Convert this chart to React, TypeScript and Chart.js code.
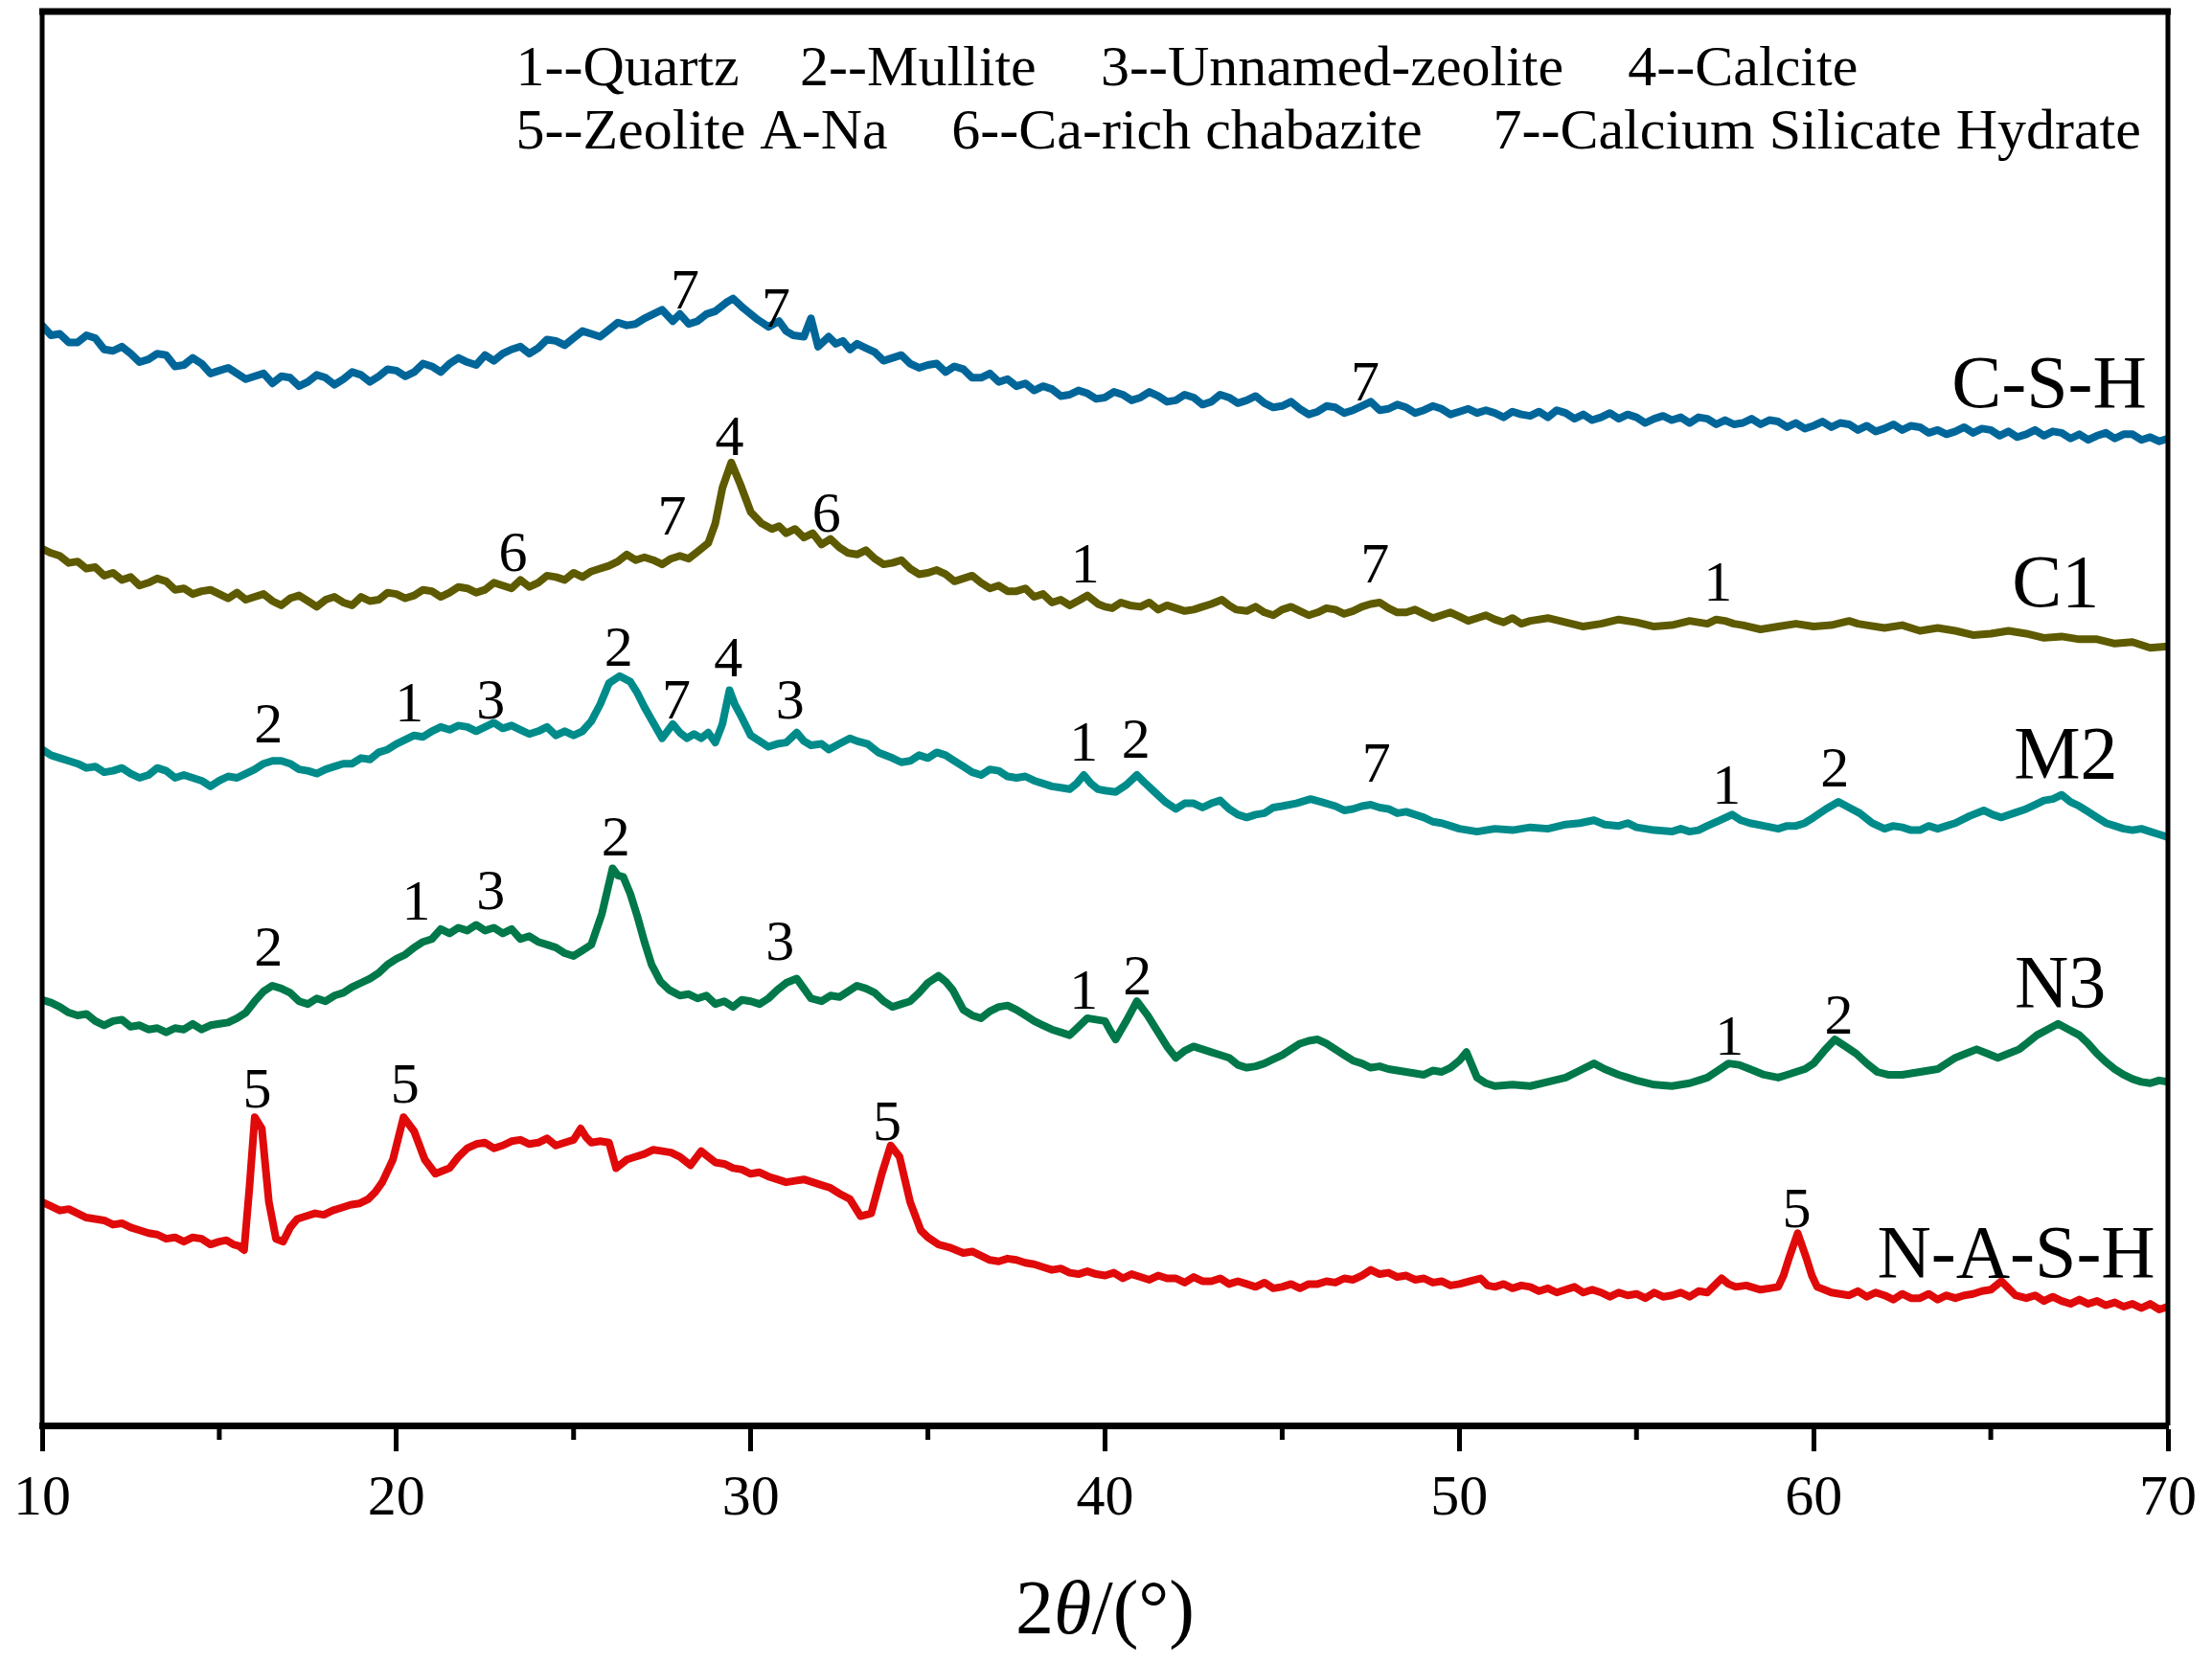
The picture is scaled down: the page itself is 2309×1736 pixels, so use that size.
import { useEffect, useRef } from "react"
import { Chart, registerables } from "chart.js"

Chart.register(...registerables)

// 2θ (deg) / intensity (a.u.) pairs
const cshPattern = [
  [10, 778], [10.25, 771], [10.5, 772], [10.75, 766], [11, 766], [11.25, 771], [11.5, 769], [11.75, 761],
  [12, 760], [12.25, 763], [12.5, 758], [12.75, 752], [13, 754], [13.25, 758], [13.5, 757], [13.75, 749],
  [14, 750], [14.25, 755], [14.5, 751], [14.75, 744], [15, 746], [15.25, 748], [15.5, 744], [15.75, 740],
  [16, 742], [16.25, 744], [16.5, 737], [16.75, 742], [17, 741], [17.25, 735], [17.5, 738], [17.75, 743],
  [18, 741], [18.25, 736], [18.5, 740], [18.75, 745], [19, 743], [19.25, 738], [19.5, 742], [19.75, 747],
  [20, 746], [20.25, 742], [20.5, 745], [20.75, 751], [21, 749], [21.25, 745], [21.5, 751], [21.75, 755],
  [22, 752], [22.25, 750], [22.5, 757], [22.75, 753], [23, 758], [23.25, 761], [23.5, 763], [23.75, 758],
  [24, 762], [24.25, 768], [24.5, 767], [24.75, 764], [25, 769], [25.25, 774], [25.5, 772], [25.75, 770],
  [26, 775], [26.25, 780], [26.5, 778], [26.75, 779], [27, 783], [27.25, 786], [27.5, 789], [27.8, 781],
  [28, 786], [28.25, 779], [28.5, 781], [28.75, 786], [29, 788], [29.3, 794], [29.5, 797], [29.8, 790],
  [30, 786], [30.2, 782], [30.5, 777], [30.8, 781], [31, 774], [31.2, 771], [31.5, 770], [31.7, 783],
  [31.9, 763], [32.2, 770], [32.4, 765], [32.6, 767], [32.8, 761], [33, 765], [33.25, 762], [33.5, 759],
  [33.75, 753], [34, 755], [34.25, 757], [34.5, 751], [34.75, 748], [35, 750], [35.25, 751], [35.5, 745],
  [35.75, 749], [36, 747], [36.25, 741], [36.5, 741], [36.75, 744], [37, 738], [37.25, 740], [37.5, 735],
  [37.75, 737], [38, 732], [38.25, 735], [38.5, 733], [38.75, 728], [39, 729], [39.25, 732], [39.5, 730],
  [39.75, 726], [40, 727], [40.25, 731], [40.5, 729], [40.75, 725], [41, 727], [41.25, 731], [41.5, 728],
  [41.75, 724], [42, 725], [42.25, 729], [42.5, 727], [42.75, 722], [43, 724], [43.25, 729], [43.5, 727],
  [43.75, 723], [44, 725], [44.25, 728], [44.5, 723], [44.75, 720], [45, 721], [45.25, 724], [45.5, 719],
  [45.75, 715], [46, 717], [46.25, 721], [46.5, 720], [46.75, 716], [47, 718], [47.25, 721], [47.5, 724],
  [47.75, 718], [48, 719], [48.25, 722], [48.5, 720], [48.75, 716], [49, 718], [49.25, 721], [49.5, 719],
  [49.75, 715], [50, 717], [50.25, 719], [50.5, 716], [50.75, 718], [51, 716], [51.25, 713], [51.5, 717],
  [51.75, 715], [52, 714], [52.25, 717], [52.5, 713], [52.75, 718], [53, 716], [53.25, 712], [53.5, 715],
  [53.75, 711], [54, 713], [54.25, 716], [54.5, 712], [54.75, 715], [55, 713], [55.25, 709], [55.5, 712],
  [55.75, 714], [56, 711], [56.25, 713], [56.5, 709], [56.75, 713], [57, 712], [57.25, 708], [57.5, 711],
  [57.75, 708], [58, 709], [58.25, 712], [58.5, 708], [58.75, 711], [59, 710], [59.25, 706], [59.5, 709],
  [59.75, 705], [60, 707], [60.25, 710], [60.5, 706], [60.75, 709], [61, 708], [61.25, 704], [61.5, 707],
  [61.75, 703], [62, 705], [62.25, 708], [62.5, 704], [62.75, 707], [63, 706], [63.25, 702], [63.5, 704],
  [63.75, 701], [64, 703], [64.25, 706], [64.5, 702], [64.75, 705], [65, 704], [65.25, 700], [65.5, 703],
  [65.75, 699], [66, 701], [66.25, 704], [66.5, 700], [66.75, 703], [67, 702], [67.25, 698], [67.5, 701],
  [67.75, 697], [68, 700], [68.25, 702], [68.5, 698], [68.75, 701], [69, 701], [69.25, 697], [69.5, 699],
  [69.75, 696], [70, 698],
]

const c1Pattern = [
  [10, 620], [10.25, 617], [10.5, 615], [10.75, 610], [11, 611], [11.25, 606], [11.5, 607], [11.75, 601],
  [12, 603], [12.25, 598], [12.5, 600], [12.75, 594], [13, 596], [13.25, 599], [13.5, 597], [13.75, 591],
  [14, 592], [14.25, 588], [14.5, 590], [14.75, 591], [15, 588], [15.25, 585], [15.5, 589], [15.75, 584],
  [16, 586], [16.25, 588], [16.5, 583], [16.75, 580], [17, 585], [17.25, 587], [17.5, 583], [17.75, 579],
  [18, 584], [18.25, 586], [18.5, 582], [18.75, 580], [19, 586], [19.25, 583], [19.5, 584], [19.75, 589],
  [20, 588], [20.25, 585], [20.5, 587], [20.75, 591], [21, 590], [21.25, 586], [21.5, 589], [21.75, 593],
  [22, 592], [22.25, 589], [22.5, 591], [22.75, 596], [23, 594], [23.25, 592], [23.5, 598], [23.75, 593],
  [24, 596], [24.25, 601], [24.5, 600], [24.75, 598], [25, 603], [25.25, 600], [25.5, 604], [25.75, 606],
  [26, 608], [26.25, 611], [26.5, 616], [26.75, 612], [27, 614], [27.25, 612], [27.5, 609], [27.75, 613],
  [28, 615], [28.25, 613], [28.5, 618], [28.8, 624], [29, 638], [29.2, 663], [29.45, 681], [29.7, 666],
  [30, 646], [30.3, 638], [30.6, 634], [30.8, 636], [31, 631], [31.25, 634], [31.5, 628], [31.75, 631],
  [32, 623], [32.25, 627], [32.5, 621], [32.75, 617], [33, 616], [33.25, 619], [33.5, 613], [33.75, 609],
  [34, 610], [34.25, 612], [34.5, 606], [34.75, 602], [35, 603], [35.25, 605], [35.5, 602], [35.75, 597],
  [36, 599], [36.25, 601], [36.5, 596], [36.75, 592], [37, 594], [37.25, 590], [37.5, 590], [37.75, 592],
  [38, 586], [38.25, 588], [38.5, 582], [38.75, 584], [39, 580], [39.3, 584], [39.5, 587], [39.8, 581],
  [40, 579], [40.2, 578], [40.45, 582], [40.7, 580], [41, 579], [41.25, 582], [41.5, 577], [41.75, 580],
  [42, 578], [42.25, 576], [42.5, 577], [42.75, 579], [43, 581], [43.3, 584], [43.5, 580], [43.7, 577],
  [44, 576], [44.25, 579], [44.5, 575], [44.75, 573], [45, 577], [45.25, 579], [45.5, 576], [45.75, 573],
  [46, 575], [46.25, 578], [46.5, 577], [46.75, 574], [47, 576], [47.25, 579], [47.5, 581], [47.75, 582],
  [48, 578], [48.25, 575], [48.5, 575], [48.75, 577], [49, 574], [49.25, 571], [49.5, 573], [49.75, 575],
  [50, 572], [50.25, 569], [50.5, 571], [50.75, 573], [51, 570], [51.25, 568], [51.5, 571], [51.75, 567],
  [52, 569], [52.5, 571], [53, 568], [53.5, 565], [54, 567], [54.5, 570], [55, 568], [55.5, 565],
  [56, 566], [56.5, 569], [57, 567], [57.25, 570], [57.5, 569], [57.75, 567], [58, 566], [58.5, 563],
  [59, 565], [59.5, 567], [60, 565], [60.5, 566], [61, 569], [61.25, 567], [61.5, 566], [62, 564],
  [62.5, 566], [63, 562], [63.5, 564], [64, 562], [64.5, 559], [65, 560], [65.5, 562], [66, 560],
  [66.5, 557], [67, 558], [67.5, 556], [68, 556], [68.5, 553], [69, 554], [69.5, 550], [70, 551],
]

const m2Pattern = [
  [10, 478], [10.25, 474], [10.5, 472], [10.75, 470], [11, 468], [11.25, 465], [11.5, 466], [11.75, 462],
  [12, 463], [12.25, 465], [12.5, 461], [12.75, 458], [13, 460], [13.25, 465], [13.5, 463], [13.75, 458],
  [14, 460], [14.25, 458], [14.5, 456], [14.75, 452], [15, 456], [15.25, 459], [15.5, 458], [15.75, 461],
  [16, 464], [16.25, 468], [16.5, 470], [16.75, 470], [17, 468], [17.25, 464], [17.5, 463], [17.75, 461],
  [18, 464], [18.25, 466], [18.5, 468], [18.75, 468], [19, 472], [19.25, 471], [19.5, 476], [19.75, 478],
  [20, 482], [20.25, 485], [20.5, 488], [20.75, 487], [21, 491], [21.25, 494], [21.5, 492], [21.75, 495],
  [22, 494], [22.25, 491], [22.5, 494], [22.75, 497], [23, 493], [23.25, 495], [23.5, 492], [23.75, 489],
  [24, 491], [24.25, 494], [24.5, 488], [24.75, 491], [25, 488], [25.25, 491], [25.5, 498], [25.75, 510],
  [26, 525], [26.3, 530], [26.6, 526], [26.8, 518], [27, 508], [27.25, 497], [27.5, 486], [27.8, 496],
  [28, 490], [28.2, 486], [28.4, 489], [28.6, 486], [28.8, 490], [29, 483], [29.2, 496], [29.4, 520],
  [29.55, 510], [29.7, 503], [30, 488], [30.25, 484], [30.5, 480], [30.75, 482], [31, 483], [31.3, 490],
  [31.5, 484], [31.7, 481], [32, 482], [32.2, 478], [32.5, 482], [32.8, 486], [33, 484], [33.3, 482],
  [33.6, 476], [34, 472], [34.25, 469], [34.5, 470], [34.75, 474], [35, 472], [35.25, 476], [35.5, 474],
  [35.75, 470], [36, 466], [36.25, 462], [36.5, 460], [36.75, 464], [37, 463], [37.25, 459], [37.5, 458],
  [37.75, 459], [38, 456], [38.25, 454], [38.5, 452], [38.75, 451], [39, 450], [39.2, 454], [39.4, 460],
  [39.6, 454], [39.8, 450], [40, 449], [40.3, 448], [40.6, 453], [40.9, 460], [41.1, 455], [41.4, 448],
  [41.7, 441], [42, 436], [42.25, 440], [42.5, 440], [42.75, 437], [43, 440], [43.25, 442], [43.5, 436],
  [43.75, 432], [44, 430], [44.25, 432], [44.5, 433], [44.75, 437], [45, 438], [45.4, 440], [45.8, 443],
  [46.1, 441], [46.5, 438], [46.75, 435], [47, 436], [47.25, 438], [47.5, 439], [47.75, 437], [48, 436],
  [48.25, 433], [48.5, 434], [48.75, 432], [49, 430], [49.25, 427], [49.5, 426], [49.75, 424], [50, 422],
  [50.25, 421], [50.5, 420], [50.75, 421], [51, 422], [51.5, 421], [52, 423], [52.5, 422], [53, 425],
  [53.4, 426], [53.8, 428], [54.1, 425], [54.5, 424], [54.75, 426], [55, 423], [55.5, 421], [56, 420],
  [56.25, 422], [56.5, 420], [56.75, 421], [57, 424], [57.35, 428], [57.7, 432], [57.95, 428], [58.2, 426],
  [58.6, 424], [59, 422], [59.25, 424], [59.5, 424], [59.75, 426], [60, 430], [60.35, 436], [60.7, 441],
  [61, 437], [61.3, 433], [61.65, 426], [62, 422], [62.25, 424], [62.5, 423], [62.75, 421], [63, 421],
  [63.25, 424], [63.5, 422], [63.75, 424], [64, 426], [64.4, 431], [64.8, 435], [65.05, 432], [65.3, 430],
  [65.65, 433], [66, 436], [66.25, 439], [66.5, 442], [66.75, 443], [67, 446], [67.25, 441], [67.5, 438],
  [67.75, 434], [68, 430], [68.25, 426], [68.5, 424], [68.75, 422], [69, 421], [69.25, 422], [69.5, 420],
  [69.75, 418], [70, 416],
]

const n3Pattern = [
  [10, 301], [10.25, 299], [10.5, 296], [10.75, 292], [11, 290], [11.25, 291], [11.5, 286], [11.75, 283],
  [12, 286], [12.25, 287], [12.5, 282], [12.75, 283], [13, 280], [13.25, 281], [13.5, 278], [13.75, 281],
  [14, 280], [14.25, 284], [14.5, 280], [14.75, 283], [15, 284], [15.25, 285], [15.5, 288], [15.75, 292],
  [16, 300], [16.25, 307], [16.5, 311], [16.75, 309], [17, 306], [17.25, 300], [17.5, 298], [17.75, 302],
  [18, 300], [18.25, 304], [18.5, 306], [18.75, 310], [19, 313], [19.25, 316], [19.5, 320], [19.75, 326],
  [20, 330], [20.25, 333], [20.5, 338], [20.75, 342], [21, 344], [21.25, 351], [21.5, 348], [21.75, 352],
  [22, 350], [22.25, 354], [22.5, 350], [22.75, 352], [23, 348], [23.25, 351], [23.5, 344], [23.75, 346],
  [24, 342], [24.25, 340], [24.5, 338], [24.75, 334], [25, 332], [25.25, 336], [25.5, 340], [25.8, 362],
  [26.1, 394], [26.25, 389], [26.4, 388], [26.6, 376], [26.8, 360], [27, 342], [27.2, 326], [27.45, 314],
  [27.7, 308], [28, 304], [28.25, 305], [28.5, 302], [28.75, 304], [29, 298], [29.25, 300], [29.5, 296],
  [29.75, 301], [30, 300], [30.25, 298], [30.5, 302], [30.75, 308], [31, 313], [31.3, 316], [31.5, 309],
  [31.7, 302], [32, 300], [32.25, 304], [32.5, 303], [32.75, 307], [33, 311], [33.25, 309], [33.5, 306],
  [33.75, 300], [34, 296], [34.25, 298], [34.5, 300], [34.75, 306], [35, 313], [35.3, 318], [35.5, 314],
  [35.7, 308], [36, 294], [36.25, 290], [36.5, 288], [36.75, 293], [37, 296], [37.25, 297], [37.5, 294],
  [37.75, 290], [38, 286], [38.25, 283], [38.5, 280], [38.75, 278], [39, 276], [39.25, 282], [39.5, 288],
  [39.75, 287], [40, 286], [40.15, 279], [40.3, 273], [40.6, 286], [40.9, 300], [41.2, 290], [41.5, 278],
  [41.75, 268], [42, 260], [42.25, 265], [42.5, 268], [42.75, 266], [43, 264], [43.25, 262], [43.5, 260],
  [43.75, 255], [44, 253], [44.25, 254], [44.5, 256], [44.75, 259], [45, 262], [45.25, 266], [45.5, 270],
  [45.75, 272], [46, 273], [46.25, 270], [46.5, 266], [46.75, 262], [47, 258], [47.25, 256], [47.5, 253],
  [47.75, 254], [48, 252], [48.25, 251], [48.5, 250], [48.75, 249], [49, 248], [49.25, 251], [49.5, 250],
  [49.75, 253], [50, 258], [50.2, 264], [50.35, 255], [50.5, 246], [50.75, 242], [51, 240], [51.5, 241],
  [52, 240], [52.5, 243], [53, 246], [53.4, 251], [53.8, 256], [54.1, 252], [54.5, 248], [54.75, 246],
  [55, 244], [55.5, 241], [56, 240], [56.25, 241], [56.5, 242], [56.75, 244], [57, 246], [57.3, 251],
  [57.6, 256], [57.9, 255], [58.2, 252], [58.6, 248], [59, 246], [59.25, 248], [59.5, 250], [59.75, 252],
  [60, 256], [60.3, 265], [60.6, 273], [60.9, 268], [61.2, 263], [61.5, 256], [61.8, 250], [62.1, 248],
  [62.5, 248], [62.75, 249], [63, 250], [63.25, 251], [63.5, 252], [63.75, 256], [64, 260], [64.3, 263],
  [64.6, 266], [64.9, 263], [65.2, 260], [65.5, 263], [65.8, 266], [66.05, 271], [66.3, 276], [66.6, 280],
  [66.9, 284], [67.2, 280], [67.5, 276], [67.75, 270], [68, 263], [68.25, 257], [68.5, 252], [68.75, 248],
  [69, 245], [69.25, 243], [69.5, 242], [69.75, 244], [70, 243],
]

const nashPattern = [
  [10, 158], [10.25, 155], [10.5, 152], [10.75, 153], [11, 150], [11.25, 147], [11.5, 146], [11.75, 145],
  [12, 142], [12.25, 143], [12.5, 140], [12.75, 138], [13, 136], [13.25, 135], [13.5, 132], [13.75, 133],
  [14, 130], [14.25, 133], [14.5, 132], [14.75, 128], [15, 130], [15.2, 131], [15.4, 128], [15.55, 127],
  [15.7, 124], [15.85, 168], [16, 218], [16.2, 210], [16.4, 158], [16.6, 132], [16.8, 130], [17, 140],
  [17.2, 146], [17.45, 148], [17.7, 150], [17.95, 149], [18.2, 152], [18.45, 154], [18.7, 156], [18.95, 157],
  [19.2, 160], [19.4, 165], [19.6, 172], [19.9, 188], [20.2, 218], [20.5, 208], [20.8, 188], [21.1, 178],
  [21.3, 180], [21.5, 182], [21.75, 190], [22, 196], [22.25, 199], [22.5, 200], [22.75, 196], [23, 198],
  [23.25, 201], [23.5, 202], [23.75, 199], [24, 200], [24.25, 203], [24.5, 198], [24.75, 200], [25, 202],
  [25.2, 210], [25.35, 204], [25.5, 200], [25.75, 201], [26, 200], [26.2, 182], [26.5, 188], [26.75, 190],
  [27, 192], [27.25, 195], [27.5, 194], [27.75, 193], [28, 190], [28.3, 184], [28.6, 194], [28.8, 190],
  [29, 186], [29.25, 185], [29.5, 182], [29.75, 181], [30, 178], [30.25, 179], [30.5, 176], [30.75, 174],
  [31, 172], [31.25, 173], [31.5, 174], [31.75, 172], [32, 170], [32.25, 168], [32.5, 164], [32.8, 160],
  [33.1, 148], [33.4, 150], [33.7, 178], [33.95, 198], [34.2, 190], [34.5, 158], [34.8, 138], [35, 133],
  [35.3, 128], [35.6, 126], [36, 122], [36.25, 123], [36.5, 120], [36.75, 117], [37, 116], [37.25, 118],
  [37.5, 117], [37.75, 115], [38, 114], [38.25, 112], [38.5, 110], [38.75, 111], [39, 108], [39.25, 107],
  [39.5, 109], [39.75, 107], [40, 106], [40.25, 108], [40.5, 104], [40.75, 107], [41, 105], [41.25, 103],
  [41.5, 106], [41.75, 104], [42, 104], [42.25, 101], [42.5, 105], [42.75, 102], [43, 102], [43.25, 104],
  [43.5, 100], [43.75, 102], [44, 100], [44.25, 98], [44.5, 101], [44.75, 97], [45, 98], [45.25, 100],
  [45.5, 97], [45.75, 100], [46, 100], [46.25, 102], [46.5, 101], [46.75, 104], [47, 103], [47.25, 106],
  [47.5, 110], [47.75, 107], [48, 108], [48.25, 105], [48.5, 106], [48.75, 103], [49, 104], [49.25, 101],
  [49.5, 102], [49.75, 99], [50, 100], [50.3, 102], [50.6, 104], [50.8, 99], [51, 98], [51.25, 100],
  [51.5, 97], [51.75, 99], [52, 98], [52.25, 95], [52.5, 97], [52.75, 94], [53, 96], [53.25, 98],
  [53.5, 94], [53.75, 96], [54, 94], [54.25, 91], [54.5, 94], [54.75, 92], [55, 93], [55.25, 90],
  [55.5, 94], [55.75, 91], [56, 92], [56.25, 94], [56.5, 91], [56.75, 95], [57, 94], [57.2, 99],
  [57.4, 104], [57.6, 100], [57.8, 98], [58.1, 99], [58.5, 96], [58.75, 97], [59, 98], [59.15, 106],
  [59.3, 118], [59.55, 136], [59.8, 118], [59.95, 106], [60.1, 98], [60.3, 96], [60.5, 94], [60.75, 93],
  [61, 92], [61.25, 95], [61.5, 91], [61.75, 94], [62, 92], [62.25, 89], [62.5, 93], [62.75, 90],
  [63, 90], [63.25, 93], [63.5, 89], [63.75, 92], [64, 90], [64.25, 92], [64.5, 93], [64.75, 95],
  [65, 96], [65.3, 102], [65.5, 97], [65.7, 92], [66, 90], [66.25, 92], [66.5, 88], [66.75, 91],
  [67, 88], [67.25, 86], [67.5, 89], [67.75, 86], [68, 88], [68.25, 85], [68.5, 87], [68.75, 84],
  [69, 86], [69.25, 83], [69.5, 86], [69.75, 82], [70, 84],
]

const seriesNames = ["C-S-H", "C1", "M2", "N3", "N-A-S-H"]
const seriesColors = ["#006699", "#5e5a00", "#008b8b", "#00784a", "#e00a0a"]
const patterns = [cshPattern, c1Pattern, m2Pattern, n3Pattern, nashPattern]

// series name anchors (2θ, intensity), right aligned
const nameAnchors = [[69.4, 720], [68.06, 579], [68.58, 458], [68.25, 296], [69.64, 105]]

// phase marks above peaks: [2θ, intensity, phase number]
const peakMarks = [
  [28.14, 790, "7"], [30.71, 777, "7"], [47.34, 725, "7"],
  [23.29, 604, "6"], [27.78, 630, "7"], [29.4, 686, "4"], [32.14, 632, "6"], [39.44, 596, "1"],
  [47.62, 596, "7"], [57.3, 583, "1"],
  [16.39, 483, "2"], [20.36, 498, "1"], [22.66, 500, "3"], [26.27, 537, "2"], [27.9, 500, "7"],
  [29.37, 530, "4"], [31.11, 500, "3"], [39.4, 470, "1"], [40.87, 472, "2"], [47.66, 455, "7"],
  [57.54, 440, "1"], [60.6, 452, "2"],
  [16.39, 325, "2"], [20.56, 358, "1"], [22.66, 365, "3"], [26.19, 403, "2"], [30.83, 329, "3"],
  [39.4, 295, "1"], [40.91, 305, "2"], [57.62, 262, "1"], [60.71, 277, "2"],
  [16.07, 225, "5"], [20.24, 228, "5"], [33.85, 202, "5"], [59.52, 140, "5"],
]

// phase key, two rows: [2θ, intensity, text]
const phaseKey = [
  [23.37, 948, "1--Quartz"], [31.39, 948, "2--Mullite"], [39.88, 948, "3--Unnamed-zeolite"],
  [54.76, 948, "4--Calcite"],
  [23.37, 903, "5--Zeolite A-Na"], [35.67, 903, "6--Ca-rich chabazite"],
  [50.95, 903, "7--Calcium Silicate Hydrate"],
]

const minorTicks = [15, 25, 35, 45, 55, 65]

const SERIF = '"Liberation Serif", "Times New Roman", serif'

const decorations = {
  id: "decorations",
  afterDraw(chart: any) {
    const { ctx, chartArea: a, scales } = chart
    const x = scales.x
    const y = scales.y
    ctx.save()
    ctx.strokeStyle = "#000"
    ctx.lineCap = "butt"

    // frame: sides and thick top
    ctx.lineWidth = 5
    ctx.beginPath()
    ctx.moveTo(a.left, a.top)
    ctx.lineTo(a.left, a.bottom)
    ctx.moveTo(a.right, a.top)
    ctx.lineTo(a.right, a.bottom)
    ctx.stroke()
    ctx.lineWidth = 7
    ctx.beginPath()
    ctx.moveTo(a.left - 3, a.top)
    ctx.lineTo(a.right + 3, a.top)
    ctx.stroke()

    // minor ticks
    ctx.lineWidth = 5
    ctx.beginPath()
    for (const v of minorTicks) {
      const px = x.getPixelForValue(v)
      ctx.moveTo(px, a.bottom)
      ctx.lineTo(px, a.bottom + 15)
    }
    ctx.stroke()

    ctx.fillStyle = "#000"
    ctx.textBaseline = "alphabetic"

    ctx.font = `60px ${SERIF}`
    ctx.textAlign = "center"
    for (const [t, v, s] of peakMarks as any) {
      ctx.fillText(s, x.getPixelForValue(t), y.getPixelForValue(v))
    }

    ctx.textAlign = "left"
    for (const [t, v, s] of phaseKey as any) {
      ctx.fillText(s, x.getPixelForValue(t), y.getPixelForValue(v))
    }

    ctx.font = `78px ${SERIF}`
    ctx.textAlign = "right"
    nameAnchors.forEach(([t, v], i) => {
      ctx.fillText(seriesNames[i], x.getPixelForValue(t), y.getPixelForValue(v))
    })

    // axis title 2θ/(°), θ in italics
    const parts: [string, string][] = [
      ["2", `80px ${SERIF}`],
      ["θ", `italic 80px ${SERIF}`],
      ["/(°)", `80px ${SERIF}`],
    ]
    let total = 0
    for (const [s, f] of parts) {
      ctx.font = f
      total += ctx.measureText(s).width
    }
    let cx = (a.left + a.right) / 2 - total / 2
    ctx.textAlign = "left"
    for (const [s, f] of parts) {
      ctx.font = f
      ctx.fillText(s, cx, 1705)
      cx += ctx.measureText(s).width
    }
    ctx.restore()
  },
}

export default function App() {
  const chartRef = useRef<HTMLCanvasElement>(null)
  const chartInstance = useRef<Chart | null>(null)

  useEffect(() => {
    if (!chartRef.current) return
    if (chartInstance.current) chartInstance.current.destroy()
    const ctx = chartRef.current.getContext("2d")
    if (!ctx) return

    chartInstance.current = new Chart(ctx, {
      type: "line",
      data: {
        datasets: patterns.map((p, i) => ({
          label: seriesNames[i],
          data: p.map(([t, v]) => ({ x: t, y: v })),
          borderColor: seriesColors[i],
          backgroundColor: seriesColors[i],
          borderWidth: 8,
          pointRadius: 0,
          tension: 0,
          borderJoinStyle: "round" as const,
          borderCapStyle: "round" as const,
        })),
      },
      options: {
        animation: false,
        responsive: true,
        maintainAspectRatio: false,
        devicePixelRatio: 1,
        layout: { padding: { left: 37, right: 46, top: 12, bottom: 121 } },
        plugins: {
          legend: { display: false },
          tooltip: { enabled: false },
        },
        scales: {
          x: {
            type: "linear",
            min: 10,
            max: 70,
            ticks: {
              stepSize: 10,
              color: "#000",
              padding: 14,
              font: { family: SERIF, size: 60 },
              maxRotation: 0,
            },
            grid: {
              drawOnChartArea: false,
              drawTicks: true,
              tickLength: 27,
              tickWidth: 5,
              tickColor: "#000",
            },
            border: { display: true, color: "#000", width: 7 },
          },
          y: {
            display: false,
            min: 0,
            max: 1000,
          },
        },
      },
      plugins: [decorations],
    })

    return () => {
      if (chartInstance.current) {
        chartInstance.current.destroy()
        chartInstance.current = null
      }
    }
  }, [])

  return (
    <div style={{ position: "absolute", left: 0, top: 0, width: 2309, height: 1736, background: "#fff" }}>
      <canvas ref={chartRef} />
    </div>
  )
}
